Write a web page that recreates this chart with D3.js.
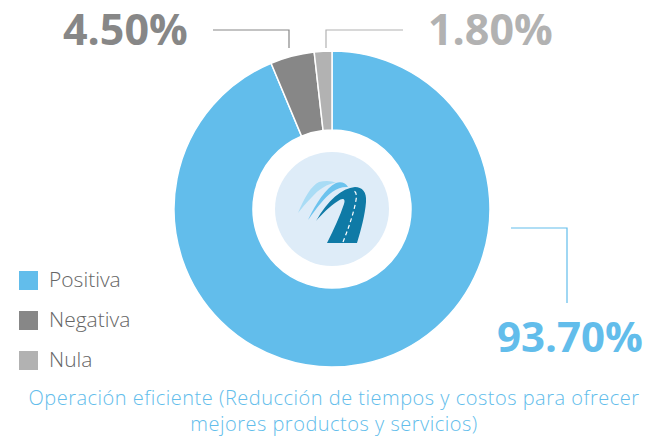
<!DOCTYPE html>
<meta charset="utf-8">
<style>
body { margin: 0; background: #fff; }
svg { display: block; font-family: "Open Sans", "Noto Sans", sans-serif; }
.pct { font-weight: 700; }
.legend text { font-size: 21px; font-weight: 300; fill: #666; }
.caption { font-size: 20px; font-weight: 300; fill: #62bdeb; text-anchor: middle; letter-spacing: 0.5px; }
</style>
<body>
<script src="https://d3js.org/d3.v7.min.js"></script>
<script>

// data
var categories = ["Positiva", "Negativa", "Nula"];
var values = [93.7, 4.5, 1.8];
var labels = ["93.70%", "4.50%", "1.80%"];
var colors = ["#62bdeb", "#878787", "#b2b2b2"];
var captionLines = ["Operación eficiente (Reducción de tiempos y costos para ofrecer",
                    "mejores productos y servicios)"];

var width = 648, height = 440;
var cx = 332, cy = 209, outerR = 158, innerR = 79;

var svg = d3.select("body").append("svg")
    .attr("width", width)
    .attr("height", height);

var data = categories.map(function(c, i) { return {name: c, value: values[i]}; });

var pie = d3.pie()
    .sort(null)
    .value(function(d) { return d.value; });

var arc = d3.arc()
    .innerRadius(innerR)
    .outerRadius(outerR);

var color = d3.scaleOrdinal().domain(categories).range(colors);

var g = svg.append("g")
    .attr("transform", "translate(" + cx + "," + cy + ")");

var arcs = pie(data);

g.selectAll("path.slice")
    .data(arcs)
  .enter().append("path")
    .attr("class", "slice")
    .attr("d", arc)
    .attr("fill", function(d) { return color(d.data.name); })
    .attr("stroke", "#fff")
    .attr("stroke-width", 1.5);

// centre disc + logo
g.append("circle").attr("r", 57).attr("fill", "#deecf8");

var logo = g.append("g").attr("transform", "translate(" + (-cx) + "," + (-cy) + ")");
logo.append("path")
    .attr("fill", "#a9dcf5")
    .attr("d", "M298,213 C304,198 311,186 319,182 C326,180 333,181 336,183 C328,183 318,190 312,197 C306,203 301,209 298,213 Z");
logo.append("path")
    .attr("fill", "#6cc3ee")
    .attr("d", "M308,220 C316,203 326,188 336,183 C341,181 346,183 348,187 C338,186 328,194 321,203 C315,210 311,216 308,220 Z");
logo.append("path")
    .attr("fill", "#0f7aa6")
    .attr("d", "M316,221 C328,200 342,188 355,187 C362,187 367,192 366,202 C365,215 361,230 357,243 L327,243 C334,229 340,216 344,204 C346,198 342,198 338,201 C330,206 322,214 316,221 Z");
logo.append("path")
    .attr("fill", "none")
    .attr("stroke", "#fff")
    .attr("stroke-width", 1.2)
    .attr("stroke-dasharray", "4,3")
    .attr("d", "M343,242 C349,227 354,212 356,200 C357,195 356,192 354,191");

// percentage labels with leader lines
var labelLayout = [
  {tx: 497, ty: 352, size: 42, line: [[511, 228], [567, 228], [567, 303]]},
  {tx: 63, ty: 45, size: 43, line: [[213, 30], [289, 30], [289, 48]]},
  {tx: 428, ty: 45, size: 43, line: [[403, 30], [326, 30], [326, 48]]}
];

svg.selectAll("path.leader")
    .data(arcs)
  .enter().append("path")
    .attr("class", "leader")
    .attr("fill", "none")
    .attr("stroke", function(d) { return color(d.data.name); })
    .attr("stroke-width", 1.2)
    .attr("d", function(d, i) { return d3.line()(labelLayout[i].line); });

svg.selectAll("text.pct")
    .data(arcs)
  .enter().append("text")
    .attr("class", "pct")
    .attr("x", function(d, i) { return labelLayout[i].tx; })
    .attr("y", function(d, i) { return labelLayout[i].ty; })
    .style("font-size", function(d, i) { return labelLayout[i].size + "px"; })
    .attr("fill", function(d) { return color(d.data.name); })
    .text(function(d, i) { return labels[i]; });

// legend
var legend = svg.append("g").attr("class", "legend")
    .selectAll("g")
    .data(categories)
  .enter().append("g")
    .attr("transform", function(d, i) { return "translate(19," + (271 + i * 40) + ")"; });

legend.append("rect")
    .attr("width", 19)
    .attr("height", 19)
    .attr("fill", function(d) { return color(d); });

legend.append("text")
    .attr("x", 30)
    .attr("y", 16)
    .text(function(d) { return d; });

// caption
svg.selectAll("text.caption")
    .data(captionLines)
  .enter().append("text")
    .attr("class", "caption")
    .attr("x", 334)
    .attr("y", function(d, i) { return 405 + i * 26; })
    .text(function(d) { return d; });

</script>
</body>
